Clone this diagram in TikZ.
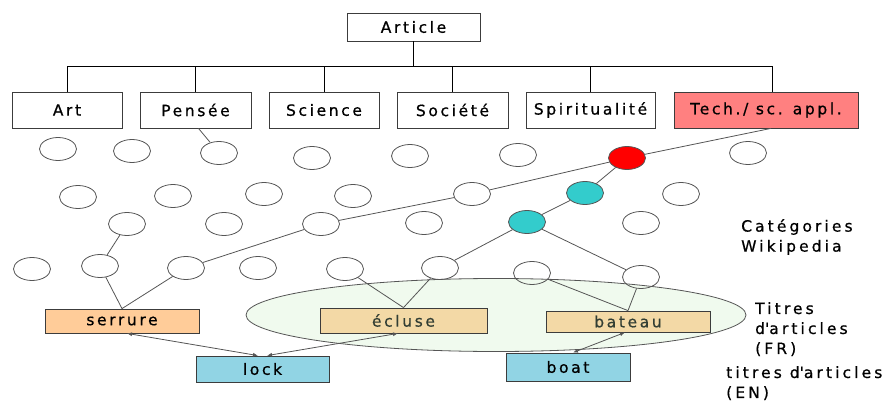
\documentclass[tikz,border=0pt]{standalone}
\usepackage{fontspec}
\setmainfont{DejaVu Sans}[LetterSpace=17,FakeBold=0.7]
\usetikzlibrary{shapes.geometric,arrows.meta}
\definecolor{edgegray}{RGB}{85,85,85}
\definecolor{boxline}{RGB}{60,60,60}
\definecolor{techred}{RGB}{255,128,128}
\definecolor{peach}{RGB}{255,204,153}
\definecolor{wheat}{RGB}{243,217,166}
\definecolor{skyblue}{RGB}{145,212,228}
\definecolor{palegreen}{RGB}{240,250,238}
\definecolor{catcyan}{RGB}{51,204,204}
\definecolor{darktext}{RGB}{50,62,52}
\begin{document}
\begin{tikzpicture}[x=1pt,y=-1pt,
  catbox/.style={draw=boxline, line width=0.8pt, inner sep=0pt, minimum height=36pt,
     font=\fontsize{15.5pt}{19pt}\selectfont},
  titlebox/.style={draw=boxline, line width=0.8pt, inner sep=0pt, minimum height=24pt,
     font=\fontsize{15.5pt}{19pt}\selectfont},
  cat/.style={ellipse, draw=edgegray, line width=0.8pt, inner sep=0pt,
     minimum width=37pt, minimum height=23pt},
  link/.style={draw=edgegray, line width=0.8pt},
  tree/.style={draw=black, line width=0.8pt},
  trans/.style={draw=edgegray, line width=0.8pt, {Latex[length=5pt,width=4pt]}-{Latex[length=5pt,width=4pt]}},
  side/.style={anchor=north west, inner sep=0pt, align=left,
     font=\fontsize{15.5pt}{20pt}\selectfont\addfontfeature{LetterSpace=20}}
]
\useasboundingbox (0,0) rectangle (886,401);

% French titles zone
\node[ellipse, draw=edgegray, line width=0.8pt, fill=palegreen, minimum width=500pt, minimum height=73pt, inner sep=0pt] (frzone) at (496,315) {};

% top hierarchy
\node[catbox, minimum width=133pt, minimum height=28pt] (article) at (413.5,27) {Article};
\node[catbox, minimum width=110pt] (art) at (67,110) {Art};
\node[catbox, minimum width=111pt] (pensee) at (195.5,110) {Pensée};
\node[catbox, minimum width=110pt] (science) at (324,110) {Science};
\node[catbox, minimum width=111pt] (societe) at (452.5,110) {Société};
\node[catbox, minimum width=129pt] (spirit) at (590.5,110) {Spiritualité};
\node[catbox, minimum width=184pt, fill=techred] (tech) at (766,110) {Tech./ sc. appl.};

\coordinate (bus) at (413.5,66.5);
\coordinate (techtop) at (772,92);
\draw[tree] (article.south) -- (bus);
\draw[tree] (art.north |- bus) -- (techtop |- bus);
\foreach \b in {art,pensee,science,societe,spirit} {
  \draw[tree] (\b.north) -- (\b.north |- bus);
}
\draw[tree] (techtop) -- (techtop |- bus);

% category circles
\node[cat] (a1) at (58,149) {};
\node[cat] (a2) at (132,151) {};
\node[cat] (a3) at (219,153) {};
\node[cat] (a4) at (312,158) {};
\node[cat] (a5) at (410,156) {};
\node[cat] (a6) at (518,155) {};
\node[cat, fill=red] (red) at (627,158) {};
\node[cat] (a8) at (748,153) {};

\node[cat] (b1) at (78,197) {};
\node[cat] (b2) at (173,196) {};
\node[cat] (b3) at (264,194) {};
\node[cat] (b4) at (353,196) {};
\node[cat] (b5) at (472,194) {};
\node[cat, fill=catcyan] (cy1) at (585,193) {};
\node[cat] (b7) at (681,194) {};

\node[cat] (c1) at (127,224) {};
\node[cat] (c2) at (224,224) {};
\node[cat] (c3) at (321,224) {};
\node[cat] (c4) at (424,223) {};
\node[cat, fill=catcyan] (cy2) at (527,222) {};
\node[cat] (c6) at (641,223) {};

\node[cat] (d1) at (32,269) {};
\node[cat] (d2) at (100,266) {};
\node[cat] (d3) at (186,268) {};
\node[cat] (d4) at (258,268) {};
\node[cat] (d5) at (345,269) {};
\node[cat] (d6) at (440,268) {};
\node[cat] (d7) at (532,273) {};
\node[cat] (d8) at (641,277) {};

% article title boxes
\node[titlebox, fill=peach, minimum width=154pt] (serrure) at (122,321) {serrure};
\node[titlebox, fill=wheat, minimum width=167pt, text=darktext, minimum height=25pt] (ecluse) at (403.5,320.5) {écluse};
\node[titlebox, fill=wheat, minimum width=164pt, text=darktext, minimum height=21pt] (bateau) at (628,321.5) {bateau};
\node[titlebox, fill=skyblue, minimum width=133pt, minimum height=26pt] (lock) at (262.5,369) {lock};
\node[titlebox, fill=skyblue, minimum width=124pt, minimum height=28pt] (boat) at (568,367) {boat};

% category links
\draw[link] ([xshift=3pt]pensee.south) -- (a3);
\draw[link] ([xshift=5pt]tech.south) -- (red);
\draw[link] (red) -- (b5);
\draw[link] (b5) -- (c3);
\draw[link] (c3) -- (d3);
\draw[link] (c1) -- (d2);
\draw[link] (red) -- (cy1);
\draw[link] (cy1) -- (cy2);
\draw[link] (cy2) -- (d6);
\draw[link] (cy2) -- (d8);
\draw[link] (d2) -- (serrure.north);
\draw[link] (d3) -- (serrure.north);
\draw[link] (d5) -- (ecluse.north);
\draw[link] (d6) -- (ecluse.north);
\draw[link] (d7) -- (bateau.north);
\draw[link] (d8) -- (bateau.north);

% translation links
\draw[trans] ([xshift=5pt]serrure.south) -- ([xshift=-4.5pt]lock.north);
\draw[trans] ([xshift=-5.5pt]ecluse.south) -- ([xshift=4.5pt]lock.north);
\draw[trans] ([xshift=-3pt]bateau.south) -- ([xshift=5pt]boat.north);

% side labels
\node[side] (lblcat) at (741,219) {Catégories\\Wikipedia};
\node[side] (lblfr) at (755,302) {Titres\\d\textquotesingle articles\\(FR)};
\node[side] (lblen) at (726,366) {titres d\textquotesingle articles\\(EN)};
\end{tikzpicture}
\end{document}
